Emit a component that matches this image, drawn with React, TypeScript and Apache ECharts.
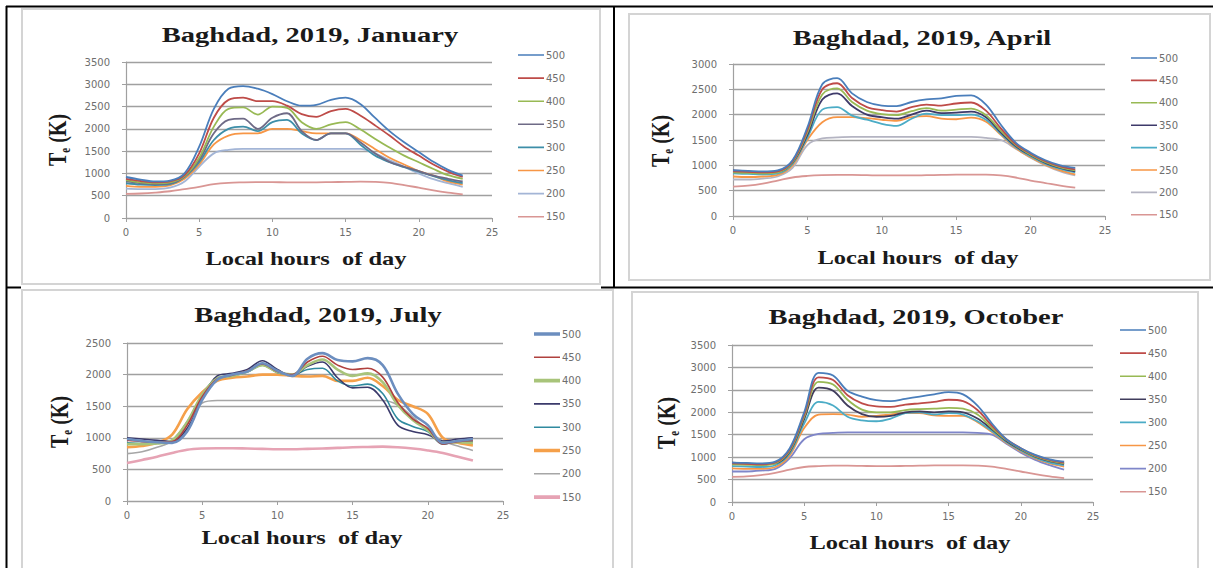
import React, { useEffect, useRef } from "react";
import * as echarts from "echarts";

// ---------- data ----------
const HOURS = [0, 1, 2, 3, 4, 5, 6, 7, 8, 9, 10, 11, 12, 13, 14, 15, 16, 17, 18, 19, 20, 21, 22, 23];
const LEVELS = ["500", "450", "400", "350", "300", "250", "200", "150"];

const jan500 = [920, 860, 820, 840, 1000, 1600, 2450, 2900, 2960, 2900, 2780, 2620, 2520, 2540, 2650, 2700, 2560, 2250, 1950, 1700, 1480, 1260, 1080, 950];
const jan450 = [880, 830, 800, 820, 960, 1450, 2250, 2650, 2700, 2620, 2620, 2520, 2330, 2270, 2400, 2450, 2300, 2080, 1850, 1600, 1400, 1200, 1040, 920];
const jan400 = [850, 800, 780, 800, 940, 1350, 2050, 2450, 2480, 2320, 2500, 2470, 2150, 2000, 2100, 2150, 1990, 1780, 1580, 1400, 1250, 1100, 960, 880];
const jan350 = [820, 780, 760, 780, 930, 1300, 1900, 2200, 2230, 2000, 2250, 2350, 1950, 1750, 1900, 1900, 1700, 1450, 1260, 1150, 1050, 950, 880, 820];
const jan300 = [780, 750, 740, 760, 920, 1250, 1750, 2000, 2050, 1950, 2150, 2200, 1900, 1750, 1900, 1900, 1650, 1400, 1250, 1140, 1040, 940, 850, 780];
const jan250 = [720, 700, 700, 730, 880, 1200, 1650, 1850, 1900, 1900, 2000, 2000, 1950, 1900, 1900, 1900, 1750, 1550, 1350, 1200, 1050, 950, 820, 750];
const jan200 = [660, 650, 650, 680, 820, 1150, 1450, 1530, 1550, 1550, 1550, 1550, 1550, 1550, 1550, 1550, 1550, 1450, 1300, 1150, 1000, 870, 780, 700];
const jan150 = [540, 550, 570, 600, 650, 700, 760, 790, 800, 805, 805, 800, 800, 800, 805, 810, 815, 810, 790, 740, 680, 620, 570, 530];

const apr500 = [900, 890, 880, 900, 1100, 1750, 2600, 2720, 2420, 2250, 2180, 2170, 2250, 2300, 2320, 2370, 2380, 2200, 1800, 1450, 1250, 1100, 1000, 950];
const apr450 = [880, 870, 860, 880, 1080, 1700, 2500, 2620, 2330, 2150, 2090, 2060, 2150, 2200, 2180, 2220, 2240, 2080, 1730, 1420, 1230, 1080, 980, 920];
const apr400 = [860, 850, 840, 860, 1060, 1650, 2400, 2520, 2250, 2080, 2010, 1990, 2070, 2130, 2080, 2100, 2120, 1990, 1680, 1400, 1210, 1060, 960, 900];
const apr350 = [900, 880, 860, 870, 1050, 1600, 2300, 2420, 2170, 2000, 1950, 1920, 2000, 2080, 2030, 2040, 2060, 1950, 1650, 1380, 1200, 1050, 950, 880];
const apr300 = [840, 830, 820, 840, 1030, 1550, 2100, 2150, 1980, 1900, 1820, 1780, 1920, 2020, 1990, 1990, 2000, 1900, 1620, 1360, 1180, 1030, 930, 860];
const apr250 = [780, 770, 780, 810, 1000, 1500, 1850, 1950, 1950, 1930, 1900, 1880, 1950, 1970, 1920, 1910, 1940, 1860, 1600, 1340, 1160, 1010, 900, 820];
const apr200 = [720, 720, 740, 780, 950, 1400, 1530, 1550, 1560, 1560, 1560, 1560, 1560, 1560, 1560, 1560, 1560, 1540, 1500, 1330, 1150, 1000, 880, 800];
const apr150 = [580, 600, 640, 700, 760, 790, 805, 810, 810, 805, 800, 800, 800, 805, 810, 815, 815, 815, 800, 760, 700, 650, 600, 560];

const jul500 = [980, 950, 930, 920, 1100, 1600, 1920, 2000, 2050, 2180, 2060, 1980, 2250, 2340, 2230, 2210, 2260, 2150, 1700, 1380, 1200, 920, 950, 980];
const jul450 = [960, 940, 930, 940, 1200, 1650, 1930, 1990, 2060, 2170, 2050, 2000, 2200, 2290, 2150, 2080, 2100, 1960, 1560, 1300, 1150, 900, 940, 960];
const jul400 = [900, 900, 910, 960, 1250, 1680, 1940, 1980, 2050, 2150, 2040, 2000, 2150, 2240, 2080, 1980, 2020, 1880, 1520, 1280, 1120, 920, 930, 920];
const jul350 = [1000, 980, 960, 940, 1150, 1620, 1980, 2020, 2080, 2220, 2080, 1980, 2130, 2200, 1950, 1790, 1800, 1600, 1200, 1100, 1050, 950, 980, 1000];
const jul300 = [920, 910, 920, 950, 1250, 1680, 1950, 1980, 2040, 2150, 2030, 2000, 2080, 2100, 1900, 1820, 1850, 1700, 1300, 1180, 1100, 900, 940, 940];
const jul250 = [850, 870, 920, 1050, 1450, 1720, 1900, 1950, 1970, 2000, 2000, 1980, 1970, 1980, 1900, 1900, 1950, 1820, 1600, 1500, 1380, 1000, 920, 880];
const jul200 = [750, 780, 850, 950, 1250, 1550, 1590, 1590, 1590, 1590, 1590, 1590, 1590, 1590, 1590, 1590, 1590, 1590, 1520, 1330, 1120, 950, 870, 800];
const jul150 = [600, 650, 700, 760, 810, 830, 835, 835, 830, 825, 820, 820, 825, 830, 840, 850, 855, 860, 850, 830, 800, 760, 700, 640];

const oct500 = [880, 870, 860, 900, 1200, 2000, 2880, 2820, 2480, 2350, 2270, 2250, 2300, 2350, 2400, 2450, 2400, 2150, 1750, 1400, 1200, 1050, 950, 900];
const oct450 = [860, 850, 840, 880, 1170, 1950, 2780, 2720, 2380, 2200, 2130, 2120, 2170, 2200, 2230, 2280, 2250, 2050, 1700, 1400, 1200, 1040, 940, 880];
const oct400 = [840, 830, 820, 860, 1140, 1900, 2680, 2620, 2280, 2060, 2000, 2000, 2050, 2070, 2080, 2100, 2080, 1950, 1650, 1380, 1180, 1020, 920, 860];
const oct350 = [880, 860, 840, 860, 1120, 1850, 2550, 2480, 2150, 1960, 1900, 1920, 2000, 2020, 2000, 2020, 2000, 1860, 1620, 1360, 1170, 1010, 910, 850];
const oct300 = [800, 790, 780, 820, 1080, 1750, 2230, 2150, 1900, 1820, 1800, 1860, 1980, 2000, 1950, 1980, 1950, 1800, 1580, 1340, 1150, 990, 880, 820];
const oct250 = [750, 740, 740, 780, 1040, 1650, 1950, 1960, 1950, 1900, 1920, 1950, 1980, 1980, 1930, 1920, 1920, 1780, 1560, 1320, 1130, 970, 860, 790];
const oct200 = [680, 680, 700, 740, 980, 1400, 1520, 1540, 1550, 1550, 1550, 1550, 1550, 1550, 1550, 1550, 1550, 1540, 1500, 1300, 1100, 940, 820, 720];
const oct150 = [560, 570, 600, 650, 720, 780, 800, 810, 810, 805, 800, 800, 805, 810, 815, 815, 815, 810, 790, 740, 680, 620, 570, 530];

// ---------- panel layout / style ----------
const PANELS = [
  {
    key: "Jan", title: "Baghdad, 2019, January", max: 3500,
    series: [jan500, jan450, jan400, jan350, jan300, jan250, jan200, jan150],
    colors: ["#4a7ebb", "#be4b48", "#98b954", "#6e6a86", "#3d8ea8", "#f79646", "#a3b5d6", "#d99694"],
    widths: [1.8, 1.8, 1.8, 1.8, 1.8, 1.8, 1.8, 1.8],
    grid: { left: 126, top: 62, width: 366, height: 156 },
    legend: { left: 518, top: 50, gap: 13.1 },
    frame: [22, 9, 578, 275],
    titlePos: [310, 35], xNamePos: [306, 259], yNamePos: [57, 140],
  },
  {
    key: "Apr", title: "Baghdad, 2019, April", max: 3000,
    series: [apr500, apr450, apr400, apr350, apr300, apr250, apr200, apr150],
    colors: ["#4a7ebb", "#be4b48", "#98b954", "#3e3a6a", "#4bacc6", "#f79646", "#b4b4c2", "#d99694"],
    widths: [1.8, 1.8, 1.8, 1.8, 1.8, 1.8, 1.8, 1.8],
    grid: { left: 733, top: 64, width: 372, height: 152 },
    legend: { left: 1131, top: 53, gap: 12.4 },
    frame: [629, 14, 581, 266],
    titlePos: [922, 38], xNamePos: [918, 258], yNamePos: [660, 141],
  },
  {
    key: "Jul", title: "Baghdad, 2019, July", max: 2500,
    series: [jul500, jul450, jul400, jul350, jul300, jul250, jul200, jul150],
    colors: ["#6c8ebf", "#b0413e", "#a8c47a", "#3b3a6b", "#2f8a9f", "#f5a04a", "#a6a6a6", "#e6a3b4"],
    widths: [2.6, 1.6, 2.6, 1.6, 1.6, 2.6, 1.6, 2.6],
    grid: { left: 127, top: 343, width: 376, height: 158 },
    legend: { left: 534, top: 329, gap: 13.3 },
    frame: [22, 290, 591, 290],
    titlePos: [318, 315], xNamePos: [302, 538], yNamePos: [59, 422],
  },
  {
    key: "Oct", title: "Baghdad, 2019, October", max: 3500,
    series: [oct500, oct450, oct400, oct350, oct300, oct250, oct200, oct150],
    colors: ["#4a7ebb", "#be4b48", "#98b954", "#403c5c", "#4bacc6", "#f79646", "#7f86c9", "#d99694"],
    widths: [1.8, 1.8, 1.8, 1.8, 1.8, 1.8, 1.8, 1.8],
    grid: { left: 732, top: 345, width: 361, height: 157 },
    legend: { left: 1120, top: 325, gap: 13.1 },
    frame: [632, 292, 566, 290],
    titlePos: [916, 317], xNamePos: [910, 543], yNamePos: [666, 423],
  },
];

const AXIS_GRAY = "#a0a0a0";
const LABEL_FONT = { fontFamily: "DejaVu Sans", fontSize: 10, color: "#6e6e6e" };
const SERIF = "Liberation Serif";
const STRETCH = 1.36;
// legend line icons: an invisible vertical stroke fixes the box height, the filled bar is the line
const THIN_ICON = "path://M0,0L0,10M0,4.2h26v1.6h-26z";
const THICK_ICON = "path://M0,0L0,10M0,3.2h26v3.6h-26z";

function buildOption() {
  const grid: any[] = [];
  const xAxis: any[] = [];
  const yAxis: any[] = [];
  const legend: any[] = [];
  const series: any[] = [];
  const graphic: any[] = [];

  // table borders
  const black = (x1: number, y1: number, x2: number, y2: number) => ({
    type: "line", silent: true, z: 100,
    shape: { x1, y1, x2, y2 },
    style: { stroke: "#000", lineWidth: 2 },
  });
  graphic.push(black(6, 6.5, 1213, 6.5));
  graphic.push(black(6.5, 6, 6.5, 568));
  graphic.push(black(614, 6, 614, 288));
  graphic.push(black(6, 287.5, 21, 287.5));
  graphic.push(black(601, 287.5, 1213, 287.5));

  PANELS.forEach((p, i) => {
    grid.push({ ...p.grid, containLabel: false });
    xAxis.push({
      gridIndex: i, type: "value", min: 0, max: 25, interval: 5,
      axisLine: { show: true, onZero: false, lineStyle: { color: AXIS_GRAY, width: 1.2 } },
      axisTick: { show: true, length: 4, lineStyle: { color: AXIS_GRAY } },
      axisLabel: { ...LABEL_FONT, margin: 9, formatter: (v: number) => String(v) },
      splitLine: { show: false },
    });
    yAxis.push({
      gridIndex: i, type: "value", min: 0, max: p.max, interval: 500,
      axisLine: { show: true, lineStyle: { color: AXIS_GRAY, width: 1.2 } },
      axisTick: { show: true, length: 4, lineStyle: { color: AXIS_GRAY } },
      axisLabel: { ...LABEL_FONT, margin: 16, formatter: (v: number) => String(v) },
      splitLine: { show: true, lineStyle: { color: AXIS_GRAY, width: 1.3 } },
    });
    const names = LEVELS.map((l) => p.key + " " + l);
    legend.push({
      data: names.map((n, k) => ({ name: n, icon: p.widths[k] > 2 ? THICK_ICON : THIN_ICON })),
      orient: "vertical",
      left: p.legend.left, top: p.legend.top,
      itemWidth: 26, itemHeight: 10, itemGap: p.legend.gap,
      padding: 0,
      selectedMode: false,
      itemStyle: { borderWidth: 0 },
      textStyle: { ...LABEL_FONT, padding: [0, 0, 0, -3] },
      formatter: (n: string) => n.split(" ")[1],
    });
    p.series.forEach((vals, k) => {
      series.push({
        name: names[k],
        type: "line",
        xAxisIndex: i, yAxisIndex: i,
        data: vals.map((v, j) => [HOURS[j], v]),
        smooth: 0.35,
        symbol: "none", showSymbol: false,
        color: p.colors[k],
        itemStyle: { color: p.colors[k], borderWidth: 0 },
        lineStyle: { color: p.colors[k], width: p.widths[k] },
        z: 10 - k,
      });
    });

    // chart frame
    graphic.push({
      type: "rect", silent: true, z: 50,
      shape: { x: p.frame[0], y: p.frame[1], width: p.frame[2], height: p.frame[3] },
      style: { fill: "none", stroke: "#d4d4d4", lineWidth: 2 },
    });
    // title
    graphic.push({
      type: "text", silent: true, z: 60,
      x: p.titlePos[0], y: p.titlePos[1], scaleX: STRETCH,
      style: {
        text: p.title, fontFamily: SERIF, fontWeight: "bold", fontSize: 21, fill: "#1a1a1a",
        align: "center", verticalAlign: "middle", textAlign: "center", textVerticalAlign: "middle",
      },
    });
    // x axis name
    graphic.push({
      type: "text", silent: true, z: 60,
      x: p.xNamePos[0], y: p.xNamePos[1], scaleX: STRETCH,
      style: {
        text: "Local hours  of day", fontFamily: SERIF, fontWeight: "bold", fontSize: 18, fill: "#1a1a1a",
        align: "center", verticalAlign: "middle", textAlign: "center", textVerticalAlign: "middle",
      },
    });
    // y axis name
    graphic.push({
      type: "text", silent: true, z: 60,
      x: p.yNamePos[0], y: p.yNamePos[1], rotation: Math.PI / 2, scaleY: 1.3,
      style: {
        text: "{a|T}{b|e}{a| (K)}",
        align: "center", verticalAlign: "middle", textAlign: "center", textVerticalAlign: "middle",
        rich: {
          a: { fontFamily: SERIF, fontWeight: "bold", fontSize: 20, fill: "#1a1a1a", lineHeight: 24, verticalAlign: "middle" },
          b: { fontFamily: SERIF, fontWeight: "bold", fontSize: 11, fill: "#1a1a1a", lineHeight: 24, verticalAlign: "bottom", padding: [7, 0, 0, 0] },
        },
      },
    });
  });

  return { animation: false, backgroundColor: "#ffffff", grid, xAxis, yAxis, legend, series, graphic };
}

export default function App() {
  const ref = useRef<HTMLDivElement>(null);
  useEffect(() => {
    if (!ref.current) return;
    const chart = echarts.init(ref.current, undefined, { renderer: "svg" });
    chart.setOption(buildOption() as any);
    return () => chart.dispose();
  }, []);
  return (
    <div
      ref={ref}
      style={{ position: "absolute", left: 0, top: 0, width: 1213, height: 568, background: "#fff" }}
    />
  );
}
